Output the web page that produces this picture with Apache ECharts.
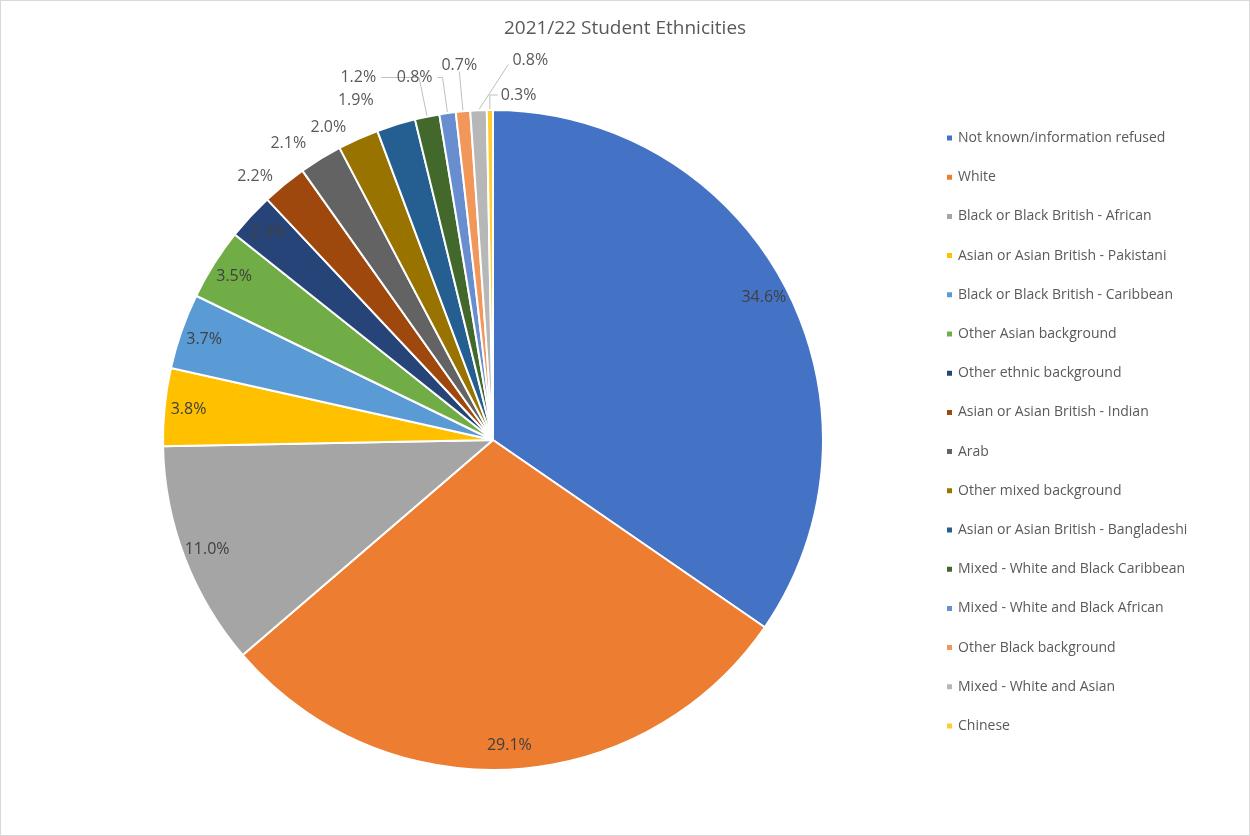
<!DOCTYPE html>
<html>
<head>
<meta charset="utf-8">
<script src="https://cdn.jsdelivr.net/npm/echarts@6/dist/echarts.min.js"></script>
<style>
  html, body { margin: 0; padding: 0; background: #fff; }
  #chart { width: 1248px; height: 834px; border: 1px solid #d9d9d9; }
</style>
</head>
<body>
<div id="chart"></div>
<script>
// Student ethnicity shares, 2021/22 (percent of students)
const categories = [
  'Not known/information refused',
  'White',
  'Black or Black British - African',
  'Asian or Asian British - Pakistani',
  'Black or Black British - Caribbean',
  'Other Asian background',
  'Other ethnic background',
  'Asian or Asian British - Indian',
  'Arab',
  'Other mixed background',
  'Asian or Asian British - Bangladeshi',
  'Mixed - White and Black Caribbean',
  'Mixed - White and Black African',
  'Other Black background',
  'Mixed - White and Asian',
  'Chinese'
];
const shares = [34.6, 29.1, 11.0, 3.8, 3.7, 3.5, 2.3, 2.2, 2.1, 2.0, 1.9, 1.2, 0.8, 0.7, 0.8, 0.3];
const palette = ['#4472C4', '#ED7D31', '#A5A5A5', '#FFC000', '#5B9BD5', '#70AD47', '#264478', '#9E480E',
                 '#636363', '#997300', '#255E91', '#43682B', '#698ED0', '#F1975A', '#B7B7B7', '#FFCD33'];

// Outside-label leader settings per slice: [length, length2, line visible]
const leader = {
  7:  [10, 0, false],
  8:  [18, 0, false],
  9:  [12, 2, false],
  10: [25, 10, false],
  11: [40, 38, true],
  12: [36, 5, true],
  13: [40, 0, true],
  14: [48, 0, true],
  15: [15, 0, true]
};

// First slices carry their labels inside the rim, the rest outside
const insideCount = 7;
const fmt = p => p.value.toFixed(1) + '%';
const font = "'Open Sans', 'Liberation Sans', sans-serif";

const mainData = categories.map((name, i) => {
  const item = { name, value: shares[i], itemStyle: { color: palette[i] } };
  if (i < insideCount) {
    item.label = { show: false };
    item.labelLine = { show: false };
  } else {
    const [len, len2, vis] = leader[i];
    item.label = { show: true };
    item.labelLine = { show: vis, length: len, length2: len2 };
  }
  return item;
});

// Transparent ring that carries the in-slice labels near the outer edge
const ringData = categories.map((name, i) => ({
  name, value: shares[i],
  label: { show: i < insideCount }
}));

// The smallest slices near twelve o'clock: place their labels above / to the right
function topLabels(p) {
  const pts = p.labelLinePoints;
  if (!pts) return;
  if (p.dataIndex === 13) {
    return { x: pts[1][0], y: pts[1][1] + 2, align: 'center', verticalAlign: 'bottom',
             labelLinePoints: [pts[0], pts[1], pts[1]] };
  }
  if (p.dataIndex === 14) {
    const end = [pts[1][0] + 32, pts[1][1] + 2];
    return { x: end[0] + 4, y: end[1] - 4, align: 'left', verticalAlign: 'middle',
             labelLinePoints: [pts[0], end, end] };
  }
  if (p.dataIndex === 15) {
    const end = [pts[1][0] + 8, pts[1][1]];
    return { x: end[0] + 3, y: end[1], align: 'left', verticalAlign: 'middle',
             labelLinePoints: [pts[0], pts[1], end] };
  }
}

const chart = echarts.init(document.getElementById('chart'));
chart.setOption({
  backgroundColor: '#fff',
  color: palette,
  title: {
    text: '2021/22 Student Ethnicities',
    left: 'center',
    top: 13,
    textStyle: { fontFamily: font, fontSize: 19, fontWeight: 'normal', color: '#595959' }
  },
  legend: {
    orient: 'vertical',
    left: 939,
    top: 124,
    data: categories,
    icon: 'rect',
    itemWidth: 7,
    itemHeight: 7,
    itemGap: 23.2,
    textStyle: { fontFamily: font, fontSize: 14, color: '#595959', lineHeight: 16 }
  },
  series: [
    {
      type: 'pie',
      center: [492, 439],
      radius: [0, 330],
      startAngle: 90,
      clockwise: true,
      avoidLabelOverlap: false,
      itemStyle: { borderColor: '#fff', borderWidth: 2 },
      label: {
        position: 'outside',
        formatter: fmt,
        fontFamily: font,
        fontSize: 16,
        color: '#595959'
      },
      labelLine: { lineStyle: { color: '#bfbfbf', width: 1 }, smooth: false },
      labelLayout: topLabels,
      emphasis: { scale: false },
      data: mainData
    },
    {
      type: 'pie',
      center: [492, 439],
      radius: [276, 330],
      startAngle: 90,
      clockwise: true,
      silent: true,
      itemStyle: { color: 'rgba(0,0,0,0)' },
      label: {
        position: 'inside',
        formatter: fmt,
        fontFamily: font,
        fontSize: 16,
        color: '#404040'
      },
      labelLine: { show: false },
      data: ringData
    }
  ]
});
</script>
</body>
</html>
